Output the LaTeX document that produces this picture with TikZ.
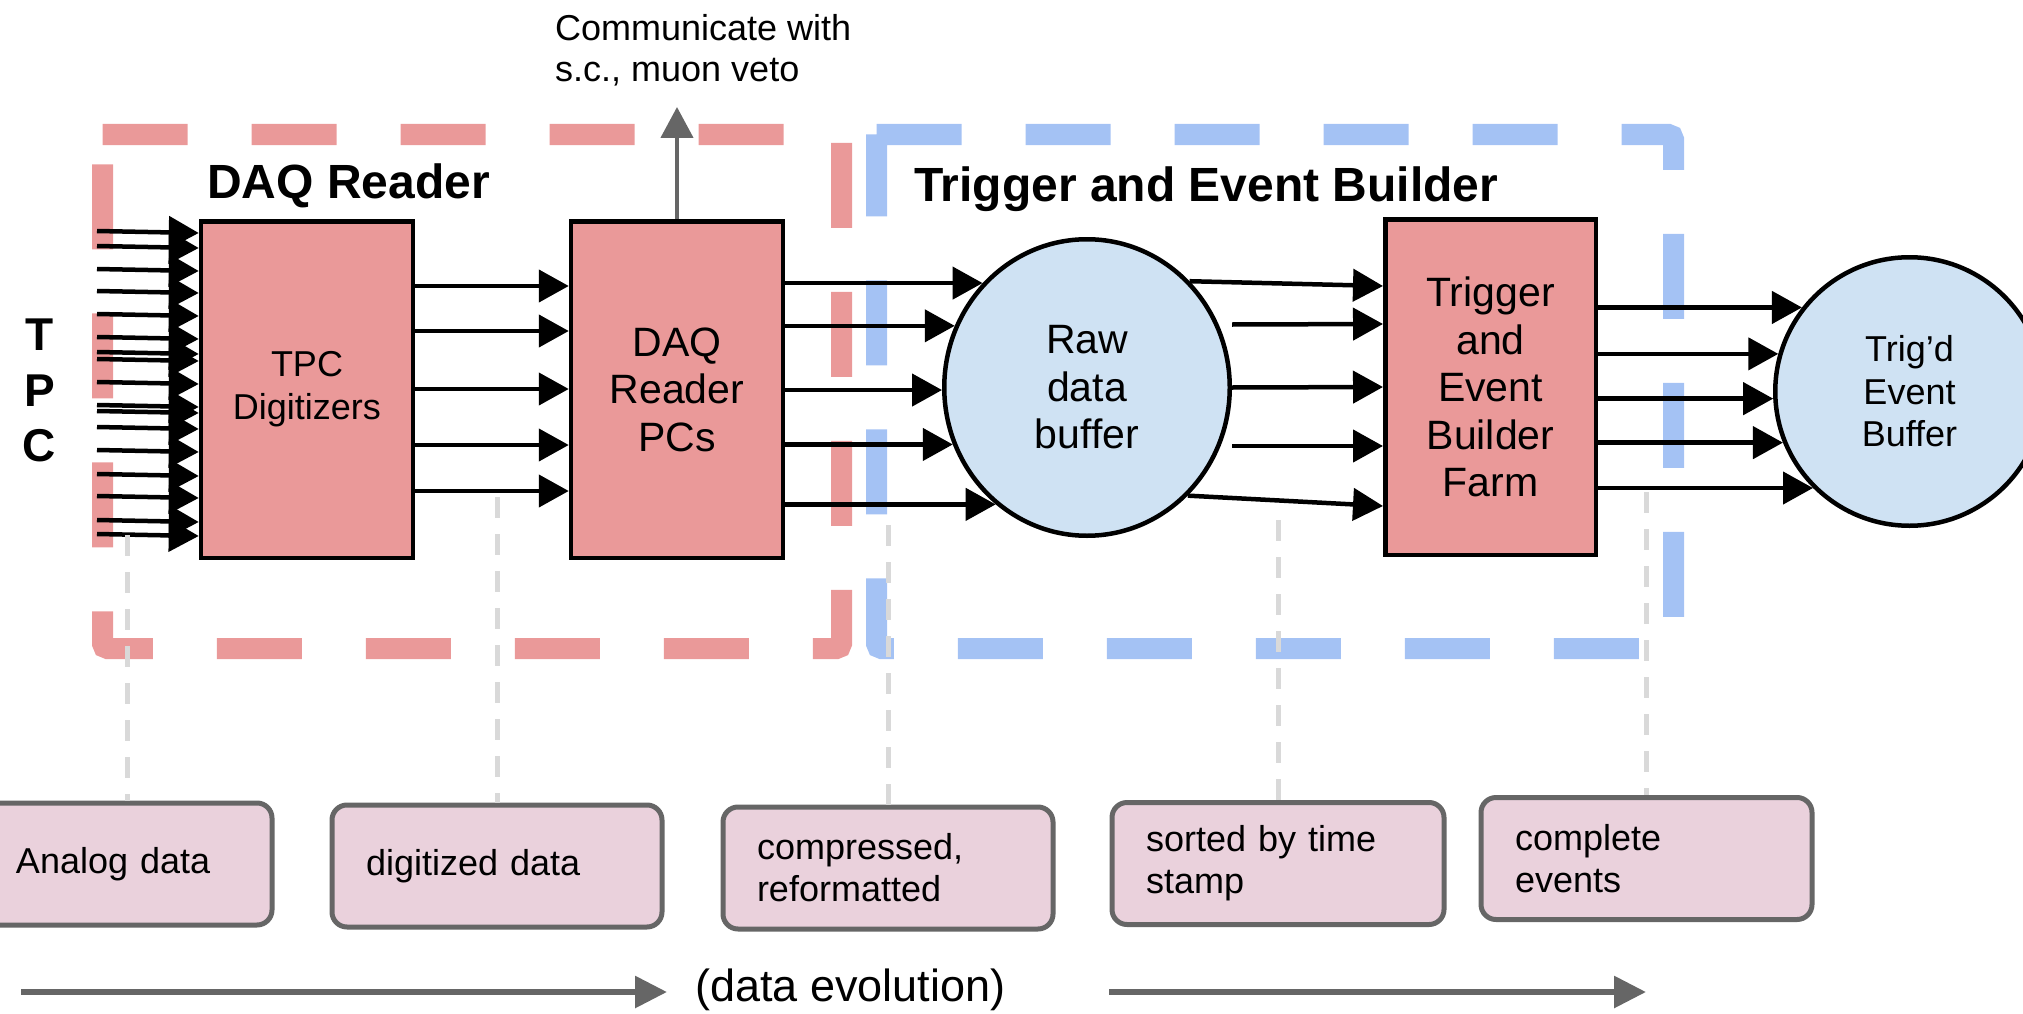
\documentclass[tikz,border=0pt]{standalone}
\usepackage{fontspec}
\setmainfont{Liberation Sans}
\usetikzlibrary{arrows.meta,calc,shapes.geometric}
\definecolor{boxred}{HTML}{EA9999}
\definecolor{grpbluecol}{HTML}{A4C2F4}
\definecolor{bufblue}{HTML}{CFE2F3}
\definecolor{notepink}{HTML}{EAD1DC}
\definecolor{darkgraysix}{HTML}{666666}
\definecolor{guidegray}{HTML}{D9D9D9}
\begin{document}
\begin{tikzpicture}[x=1pt,y=-1pt,
  procbox/.style={draw=black, line width=4.5pt, fill=boxred, rectangle, inner sep=0pt, align=center, font=\fontsize{41}{47.5}\selectfont},
  bufnode/.style={draw=black, line width=4.5pt, fill=bufblue, inner sep=0pt, align=center},
  flow/.style={draw=black, line width=4.5pt, -{Triangle[length=30pt,width=32pt]}},
  uparrow/.style={draw=darkgraysix, line width=4.5pt, -{Triangle[length=31pt,width=32pt]}},
  evo/.style={draw=darkgraysix, line width=6pt, -{Triangle[length=32pt,width=31pt]}},
  note/.style={draw=darkgraysix, line width=5pt, fill=notepink, rounded corners=15pt, align=left, inner xsep=34pt, inner ysep=0pt, minimum height=122pt, font=\fontsize{36}{42}\selectfont},
  guide/.style={draw=guidegray, line width=5pt, dash pattern=on 21pt off 16pt},
  redgroup/.style={draw=boxred, line width=21pt, dash pattern=on 85pt off 64pt, rounded corners=5pt},
  bluegroup/.style={draw=grpbluecol, line width=21pt, dash pattern=on 85pt off 64pt, rounded corners=5pt},
  title/.style={font=\bfseries\fontsize{48}{57}\selectfont, inner sep=0pt, anchor=base west}
]
\useasboundingbox (0,0) rectangle (2023,1014);
\clip (0,0) rectangle (2023,1014);

% group frames (open at the top-left corner, as in the reference)
\draw[redgroup] (102.5,134.5) -- (841.5,134.5) -- (841.5,648.5) -- (102.5,648.5) -- (102.5,134.5);
\draw[bluegroup] (876.5,134.5) -- (1673.5,134.5) -- (1673.5,648.5) -- (876.5,648.5) -- (876.5,134.5);

% titles
\node[title] (daqtitle) at (207,198) {DAQ Reader};
\node[title] (tebtitle) at (914,201) {Trigger and Event Builder};
\node[font=\bfseries\fontsize{46}{55.5}\selectfont, align=center, inner sep=0pt] (tpclbl) at (39.5,390.5) {T\\P\\C};
\node[anchor=north west, align=left, inner sep=0pt, font=\fontsize{36}{41.5}\selectfont] (commlbl) at (555,14) {Communicate with\\s.c., muon veto};

% main blocks
\node[procbox, minimum width=212pt, minimum height=336.5pt, font=\fontsize{36}{43}\selectfont] (tpc) at (307,389.5) {TPC\\Digitizers};
\node[procbox, minimum width=212pt, minimum height=336.5pt] (pcs) at (677,389.5) {DAQ\\Reader\\PCs};
\node[bufnode, ellipse, minimum width=285.5pt, minimum height=296.5pt, font=\fontsize{41}{47.5}\selectfont] (raw) at (1087,387.5) {Raw\\data\\buffer};
\node[procbox, minimum width=210.5pt, minimum height=335.5pt] (farm) at (1490.5,387) {Trigger\\and\\Event\\Builder\\Farm};
\node[bufnode, circle, minimum size=268.5pt, font=\fontsize{36}{42.5}\selectfont] (trig) at (1909.5,391.5) {Trig’d\\Event\\Buffer};

% TPC inputs
\foreach \yy in {233,248,271,293,316,339,354,361,384,407,413,429,452,476,498,522,536}{
  \draw[flow] (97,\yy-2) -- (tpc.west |- 0,\yy);
}
% digitizers -> reader PCs
\foreach \yy in {286,331,389,445,491}{
  \draw[flow] (tpc.east |- 0,\yy) -- (pcs.west |- 0,\yy);
}
% reader PCs -> raw buffer
\foreach \a in {135,155,181,203,232}{
  \draw[flow] (pcs.east |- raw.\a) -- (raw.\a);
}
% raw buffer -> farm
\draw[flow] (raw.46) -- ($(farm.west)+(0,-101)$);
\draw[flow] ($(raw.east)+(0,-63)$) -- ($(farm.west)+(0,-63)$);
\draw[flow] (raw.east) -- (farm.west);
\draw[flow] ($(raw.east)+(0,58.5)$) -- ($(farm.west)+(0,59)$);
\draw[flow] (raw.-47) -- ($(farm.west)+(0,119)$);
% farm -> trig'd buffer
\foreach \a in {142,164,183,202,225}{
  \draw[flow] (farm.east |- trig.\a) -- (trig.\a);
}
% communicate arrow
\coordinate (commtip) at (677,107);
\draw[uparrow] (pcs.north) -- (commtip);

% data stage notes
\node[note, text width=222pt] (analog) at (127,864) {Analog data};
\node[note, text width=262pt] (dig) at (497,866) {digitized data};
\node[note, text width=262pt] (comp) at (888,868) {compressed,\\reformatted};
\node[note, text width=264pt] (sort) at (1278,863.5) {sorted by time\\stamp};
\node[note, text width=263pt] (compl) at (1646.5,858.5) {complete\\events};

% guide lines
\coordinate (g1) at (127,535);
\coordinate (g2) at (497,497);
\coordinate (g3) at (888,525);
\coordinate (g4) at (1278,520);
\coordinate (g5) at (1646.5,492);
\draw[guide] (g1) -- (analog.north);
\draw[guide] (g2) -- (dig.north);
\draw[guide] (g3) -- (comp.north);
\draw[guide] (g4) -- (sort.north);
\draw[guide] (g5) -- (compl.north);

% data evolution
\coordinate (e1s) at (21,992);
\coordinate (e1e) at (667,992);
\coordinate (e2s) at (1109,992);
\coordinate (e2e) at (1646,992);
\draw[evo] (e1s) -- (e1e);
\draw[evo] (e2s) -- (e2e);
\node[anchor=base west, inner sep=0pt, font=\fontsize{45}{54}\selectfont] (evolbl) at (695,1001) {(data evolution)};
\end{tikzpicture}
\end{document}
